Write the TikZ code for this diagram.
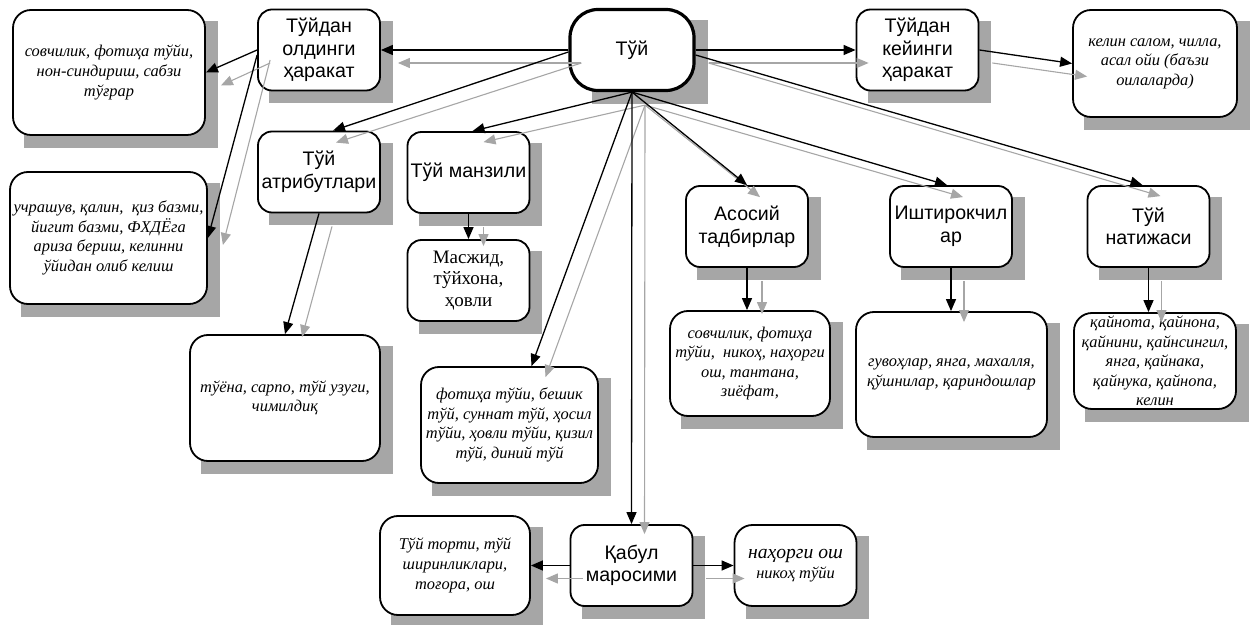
\documentclass[tikz,border=0pt]{standalone}
\usepackage{fontspec}
\setmainfont{Liberation Serif}
\setsansfont{Liberation Sans}
\usetikzlibrary{arrows.meta, backgrounds}
\definecolor{shgrey}{RGB}{166,166,166}

\begin{document}
\begin{tikzpicture}[
  x=0.5pt, y=-0.5pt,
  box/.style={
    draw=black,
    fill=white,
    rounded corners=7pt,
    line width=0.9pt,
    align=center,
    inner sep=1pt,
    font=\sffamily\fontsize{9.8}{11.3}\selectfont,
    minimum width=61pt,
    minimum height=40.5pt
  },
  notebox/.style={
    box,
    rounded corners=9pt,
    font=\rmfamily\itshape\fontsize{8.2}{9.8}\selectfont
  },
  corebox/.style={
    box,
    rounded corners=14pt,
    line width=1.6pt
  },
  arrow/.style={
    draw=black,
    -{Triangle[length=6pt, width=5pt]},
    line width=0.65pt
  },
  shadearrow/.style={
    draw=shgrey,
    -{Triangle[length=6pt, width=5pt]},
    line width=0.55pt
  }
]
\useasboundingbox (0,0) rectangle (1254,625);

% Centre node
\node[corebox, minimum width=62pt] (tuy) at (632,50) {Тўй};

% First row
\node[box] (pre) at (319,50) {Тўйдан\\олдинги\\ҳаракат};
\node[box] (post) at (917.5,50) {Тўйдан\\кейинги\\ҳаракат};
\node[notebox, minimum width=96pt, minimum height=62.5pt] (dpre) at (109,72.5)
{совчилик, фотиҳа тўйи,\\
нон-синдириш, сабзи\\
тўғрар};
\node[notebox, minimum width=82pt, minimum height=53.5pt] (dpost) at (1155,63.5)
{келин салом, чилла,\\
асал ойи (баъзи\\
оилаларда)};
\node[notebox, minimum width=98.5pt, minimum height=66pt] (dpre2) at (108.5,238)
{учрашув, қалин,\ \ қиз базми,\\
йигит базми, ФХДЁга\\
ариза бериш, келинни\\
ўйидан олиб келиш};

% Middle row
\node[box] (attr) at (319,172) {Тўй\\атрибутлари};
\node[box] (place) at (468.5,172.5) {Тўй манзили};
\node[box, font=\rmfamily\fontsize{9.5}{10.8}\selectfont] (placed) at (468.5,280.5)
{Масжид,\\тўйхона,\\ҳовли};
\node[box] (main) at (747,226.5) {Асосий\\тадбирлар};
\node[box] (part) at (951,226.5) {Иштирокчил\\ар};
\node[box] (res) at (1148.5,226.5) {Тўй\\натижаси};

% Detail cards
\node[notebox, minimum width=95pt, minimum height=63pt] (attrd) at (285,398)
{тўёна, сарпо, тўй узуги,\\
чимилдиқ};
\node[notebox, minimum width=88.5pt, minimum height=58pt] (kinds) at (509.5,425)
{фотиҳа тўйи, бешик\\
тўй, суннат тўй, ҳосил\\
тўйи, ҳовли тўйи, қизил\\
тўй, диний тўй};
\node[notebox, minimum width=80pt, minimum height=52.5pt] (maind) at (750,363.5)
{совчилик, фотиҳа\\
тўйи,\ \ никоҳ, наҳорги\\
ош, тантана,\\
зиёфат,};
\node[notebox, minimum width=95.5pt, minimum height=62.5pt] (partd) at (951.5,374.5)
{гувоҳлар, янга, махалля,\\
қўшнилар, қариндошлар};
\node[notebox, minimum width=81pt, minimum height=48pt] (resd) at (1155,361)
{қайнота, қайнона,\\
қайнини, қайнсингил,\\
янга, қайнака,\\
қайнука, қайнопа,\\
келин};

% Bottom row
\node[box] (rec) at (631.5,565.5) {Қабул\\маросими};
\node[notebox, minimum width=75pt, minimum height=49.5pt] (recl) at (455,565.5)
{Тўй торти, тўй\\
ширинликлари,\\
тоғора, ош};
\node[notebox] (recr) at (795.5,565.5)
{{\fontsize{9.8}{11}\selectfont наҳорги ош}\\
никоҳ тўйи};

% Box shadows
\begin{pgfonlayer}{background}
  \foreach \n in {pre,post,attr,place,placed,main,part,res,rec,
                  dpre,dpost,dpre2,attrd,kinds,maind,partd,resd,recl,recr}
    \fill[fill=shgrey] ([shift={(12,12)}]\n.north west) rectangle ([shift={(12,12)}]\n.south east);
  \fill[fill=shgrey] ([shift={(24,12)}]tuy.north west) rectangle ([shift={(12,12)}]tuy.south east);
\end{pgfonlayer}

% Grey shadow arrows
\draw[shadearrow] ([shift={(13,13)}]tuy.west) -- ([shift={(17,13)}]pre.east);
\draw[shadearrow] ([shift={(13,13)}]tuy.east) -- ([shift={(13,13)}]post.west);
\draw[shadearrow] ([shift={(13,13)}]tuy.west) -- ([shift={(17,12)}]attr.north);
\draw[shadearrow] ([shift={(13,13)}]tuy.south) -- ([shift={(15,11)}]place.north);
\draw[shadearrow] ([shift={(13,13)}]tuy.south) -- ([shift={(36,11)}]kinds.north);
\draw[shadearrow] ([shift={(13,13)}]tuy.south) -- ([shift={(13,10)}]rec.north);
\draw[shadearrow] ([shift={(13,13)}]tuy.south) -- ([shift={(13,12)}]main.north);
\draw[shadearrow] ([shift={(13,13)}]tuy.south) -- ([shift={(12,12)}]part.north);
\draw[shadearrow] ([shift={(13,13)}]tuy.east) -- ([shift={(12,11)}]res.north);
\draw[shadearrow] ([shift={(13,13)}]pre.west) -- ([shift={(15,13)}]dpre.east);
\draw[shadearrow] ([shift={(13,10)}]pre.west) -- ([shift={(15,7)}]dpre2.east);
\draw[shadearrow] ([shift={(13,13)}]post.east) -- ([shift={(15,13)}]dpost.west);
\draw[shadearrow] ([shift={(13,13)}]attr.south) -- ([shift={(17,3)}]attrd.north);
\draw[shadearrow] ([shift={(15,13)}]place.south) -- ([shift={(15,7)}]placed.north);
\draw[shadearrow] ([shift={(15,13)}]main.south) -- ([shift={(15,4)}]main.south |- maind.north);
\draw[shadearrow] ([shift={(13,13)}]part.south) -- ([shift={(13,11)}]part.south |- partd.north);
\draw[shadearrow] ([shift={(13,13)}]res.south) -- ([shift={(13,10)}]res.south |- resd.north);
\draw[shadearrow] ([shift={(13,13)}]rec.west) -- ([shift={(15,13)}]recl.east);
\draw[shadearrow] ([shift={(13,13)}]rec.east) -- ([shift={(11,13)}]recr.west);

% Black arrows
\draw[arrow] (tuy.west) -- (pre.east);
\draw[arrow] (tuy.east) -- (post.west);
\draw[arrow] ([yshift=-1pt]tuy.west) -- ([xshift=7pt]attr.north);
\draw[arrow] (tuy.south) -- ([xshift=2pt]place.north);
\draw[arrow] (tuy.south) -- ([xshift=11pt]kinds.north);
\draw[arrow] (tuy.south) -- (rec.north);
\draw[arrow] (tuy.south) -- (main.north);
\draw[arrow] (tuy.south) -- ([xshift=-2pt]part.north);
\draw[arrow] ([yshift=-2.5pt]tuy.east) -- ([xshift=-3pt]res.north);
\draw[arrow] (pre.west) -- (dpre.east);
\draw[arrow] ([yshift=-2.5pt]pre.west) -- (dpre2.east);
\draw[arrow] (post.east) -- (dpost.west);
\draw[arrow] (attr.south) -- (attrd.north);
\draw[arrow] (place.south) -- (placed.north);
\draw[arrow] (main.south) -- (main.south |- maind.north);
\draw[arrow] (part.south) -- (part.south |- partd.north);
\draw[arrow] (res.south) -- (res.south |- resd.north);
\draw[arrow] (rec.west) -- (recl.east);
\draw[arrow] (rec.east) -- (recr.west);

\end{tikzpicture}
\end{document}
